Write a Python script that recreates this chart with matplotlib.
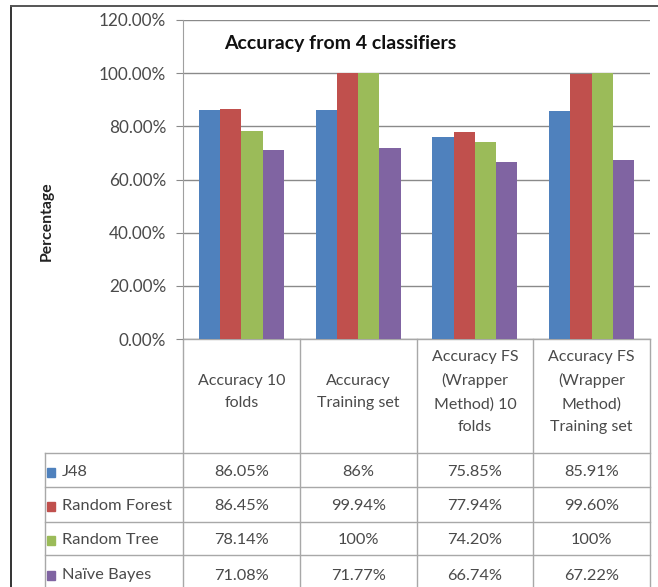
import matplotlib
matplotlib.use("Agg")
import matplotlib.pyplot as plt
from matplotlib.ticker import FuncFormatter
from matplotlib.patches import Rectangle

plt.rcParams['font.family'] = ['Lato', 'DejaVu Sans']

# ---- data -------------------------------------------------------------
categories = [
    "Accuracy 10\nfolds",
    "Accuracy\nTraining set",
    "Accuracy FS\n(Wrapper\nMethod) 10\nfolds",
    "Accuracy FS\n(Wrapper\nMethod)\nTraining set",
]
classifiers = ["J48", "Random Forest", "Random Tree", "Naïve Bayes"]
j48 = ["86.05%", "86%", "75.85%", "85.91%"]
random_forest = ["86.45%", "99.94%", "77.94%", "99.60%"]
random_tree = ["78.14%", "100%", "74.20%", "100%"]
naive_bayes = ["71.08%", "71.77%", "66.74%", "67.22%"]
y_ticks = [0, 20, 40, 60, 80, 100, 120]

series = [j48, random_forest, random_tree, naive_bayes]
colors = ["#4F81BD", "#C0504D", "#9BBB59", "#8064A2"]


def pct(s):
    return float(s.rstrip("%"))


# ---- figure -----------------------------------------------------------
W, H = 658, 587
fig = plt.figure(figsize=(W / 100, H / 100), dpi=100)
fig.patch.set_facecolor("white")

# overlay in pixel coordinates for the frame and data table
ov = fig.add_axes([0, 0, 1, 1])
ov.set_xlim(0, W)
ov.set_ylim(H, 0)
ov.axis("off")

x0, x1 = 183, 650
y_top, y_base = 20, 339
ax = fig.add_axes([x0 / W, (H - y_base) / H, (x1 - x0) / W, (y_base - y_top) / H])
ax.set_facecolor("none")

n = len(categories)
k = len(series)
bar_w = 1.0 / 5.5
for i, (vals, col) in enumerate(zip(series, colors)):
    xs = [c + (i - (k - 1) / 2) * bar_w for c in range(n)]
    ax.bar(xs, [pct(v) for v in vals], width=bar_w, color=col, zorder=3)

ax.set_xlim(-0.5, n - 0.5)
ax.set_ylim(0, 120)
ax.set_yticks(y_ticks)
ax.yaxis.set_major_formatter(FuncFormatter(lambda v, p: f"{v:.2f}%"))
ax.grid(axis="y", color="#8a8a8a", linewidth=1.0, zorder=0)
ax.set_xticks([])
for sp in ["top", "right", "bottom"]:
    ax.spines[sp].set_visible(False)
ax.spines["left"].set_color("#a0a0a0")
ax.tick_params(axis="y", length=5, color="#8a8a8a", labelsize=12.3,
               labelcolor="#4a4a4a", pad=7)

# axis title and chart title in pixel coordinates
ov.text(47, 221, "Percentage", rotation=90, ha="center", va="center",
        fontsize=11.3, fontweight="bold", color="#222222")
ov.text(224, 43, "Accuracy from 4 classifiers", ha="left", va="center",
        fontsize=14, fontweight="bold", color="#111111")

# ---- chart frame -------------------------------------------------------
ov.plot([11, 11], [6, H], color="#333333", lw=1.4)
ov.plot([11, W], [6, 6], color="#555555", lw=1.4)

# ---- data table --------------------------------------------------------
line_c = "#a8a8a8"
col_edges = [x0 + (x1 - x0) * j / n for j in range(n + 1)]
row_edges = [453, 487, 522, 555, 592]
leg_left = 45

ov.plot([x0, x1], [y_base, y_base], color=line_c, lw=1)
for xe in col_edges:
    ov.plot([xe, xe], [y_base, H], color=line_c, lw=1)
ov.plot([leg_left, leg_left], [row_edges[0], H], color=line_c, lw=1)
for ye in row_edges[:-1]:
    ov.plot([leg_left, x1], [ye, ye], color=line_c, lw=1)

text_c = "#4a4a4a"
for j, cat in enumerate(categories):
    cx = (col_edges[j] + col_edges[j + 1]) / 2
    ov.text(cx, 392, cat, ha="center", va="center", fontsize=11.5,
            color=text_c, linespacing=1.8)

for r, (name, vals, col) in enumerate(zip(classifiers, series, colors)):
    cy = (row_edges[r] + row_edges[r + 1]) / 2 + 2
    ov.add_patch(Rectangle((47, cy - 4.5), 8, 9, color=col))
    ov.text(62, cy, name, ha="left", va="center", fontsize=11.8, color=text_c)
    for j, v in enumerate(vals):
        cx = (col_edges[j] + col_edges[j + 1]) / 2
        ov.text(cx, cy, v, ha="center", va="center", fontsize=11.8, color=text_c)

fig.savefig("out.png", dpi=100, facecolor="white")
